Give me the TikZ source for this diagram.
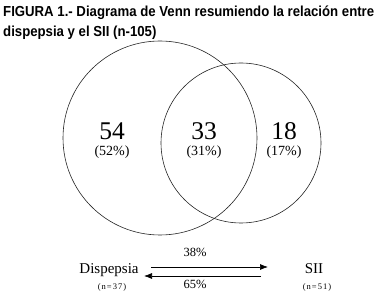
\documentclass[tikz,border=0pt]{standalone}
\usepackage{fontspec}
\setmainfont{Liberation Serif}
\newfontfamily\titlefont{Liberation Sans}
\newfontfamily\smallfont[LetterSpace=12]{Liberation Serif}
\usetikzlibrary{arrows.meta}

\tikzset{
    ring/.style={draw=black!85, line width=0.6pt},
    heading/.style={anchor=base west, inner sep=0pt, font=\titlefont\bfseries\fontsize{14.5}{16}\selectfont},
    count/.style={anchor=base, font=\fontsize{25.5}{28}\selectfont},
    share/.style={anchor=base, font=\fontsize{14}{16}\selectfont},
    group/.style={anchor=base, font=\fontsize{15}{17}\selectfont},
    nsize/.style={anchor=base, font=\smallfont\fontsize{8.5}{10}\selectfont},
    rate/.style={anchor=base, font=\fontsize{12.5}{14}\selectfont},
    link/.style={line width=0.7pt, -{Latex[length=8pt, width=6pt]}}
}

\begin{document}
\begin{tikzpicture}[x=1pt, y=-1pt]
        \useasboundingbox (0,0) rectangle (380,296);
        % Title.
            \node[heading] (title1) at (3,17) {\scalebox{0.91}[1]{FIGURA 1.- Diagrama de Venn resumiendo la relación entre}};
            \node[heading] (title2) at (3,37) {\scalebox{0.91}[1]{dispepsia y el SII (n-105)}};
        % The two circles.
            \draw[ring] (160,138) circle[radius=97pt];
            \draw[ring] (241,143) circle[radius=80pt];
        % Counts in each region.
            \node[count] (only1) at (112,140) {54};
            \node[share] (only1p) at (112,156) {(52\%)};
            \node[count] (both) at (204,140) {33};
            \node[share] (bothp) at (204,156) {(31\%)};
            \node[count] (only2) at (284,140) {18};
            \node[share] (only2p) at (284,156) {(17\%)};
        % Bottom: the two groups.
            \node[group] (dis) at (109,273) {Dispepsia};
            \node[nsize] (disn) at (112,290) {(n=37)};
            \node[group] (sii) at (314,273) {SII};
            \node[nsize] (siin) at (317,290) {(n=51)};
        % Arrows between them.
            \coordinate (upL) at (151,267);
            \coordinate (upR) at (268,267);
            \coordinate (loR) at (261,276);
            \coordinate (loL) at (144,276);
            \draw[link] (upL) -- (upR);
            \draw[link] (loR) -- (loL);
            \node[rate] (fwd) at (195,257) {38\%};
            \node[rate] (bwd) at (195,288) {65\%};
    \end{tikzpicture}
\end{document}
